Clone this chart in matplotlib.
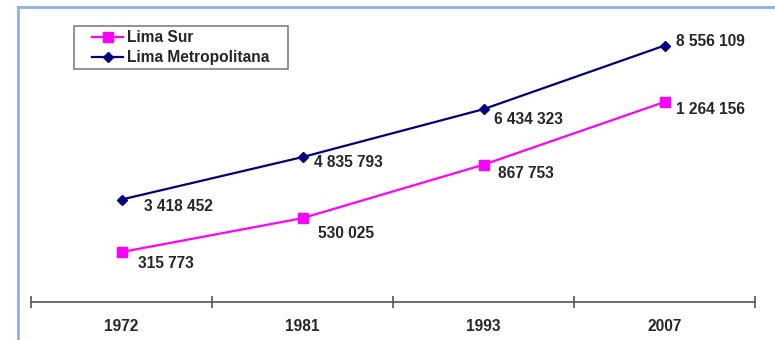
import matplotlib.pyplot as plt
from matplotlib.lines import Line2D
from matplotlib.patches import Rectangle

plt.rcParams['font.family'] = ['Liberation Sans', 'DejaVu Sans']

# poblacion censal
anios = ['1972', '1981', '1993', '2007']
lima_metro = [3418452, 4835793, 6434323, 8556109]
lima_sur = [315773, 530025, 867753, 1264156]
etiq_metro = ['3 418 452', '4 835 793', '6 434 323', '8 556 109']
etiq_sur = ['315 773', '530 025', '867 753', '1 264 156']

# desplazamiento de las etiquetas (pixeles)
desp_metro = [(23, -7), (12, -5), (11, -10), (11, 4)]
desp_sur = [(17, -11), (15, -15), (14, -9), (12, -7)]

W, H = 775, 340
FS = 11.2
fig = plt.figure(figsize=(W / 100, H / 100), dpi=100)
ax = fig.add_axes([31 / W, (H - 302) / H, 724 / W, 282 / H])
ax2 = ax.twinx()

x = [i + 0.5 for i in range(len(anios))]
color_metro = '#000080'
color_sur = '#ff00ff'
color_txt = '#262626'

l1, = ax.plot(x, lima_metro, color=color_metro, lw=1.6, marker='D', ms=5.5,
              label='Lima Metropolitana')
l2, = ax2.plot(x, lima_sur, color=color_sur, lw=1.6, marker='s', ms=6.5,
               label='Lima Sur')

ax.set_ylim(0, 9.41e6)
ax2.set_ylim(0, 1.7826e6)
ax.set_xlim(0, 4)

for xi, v, t, d in zip(x, lima_metro, etiq_metro, desp_metro):
    ax.annotate(t, (xi, v), xytext=d, textcoords='offset pixels', ha='left', va='center',
                fontsize=FS, fontweight='bold', color=color_txt)
for xi, v, t, d in zip(x, lima_sur, etiq_sur, desp_sur):
    ax2.annotate(t, (xi, v), xytext=d, textcoords='offset pixels', ha='left', va='center',
                 fontsize=FS, fontweight='bold', color=color_txt)

for a in (ax, ax2):
    for s in ('top', 'left', 'right'):
        a.spines[s].set_visible(False)
    a.set_yticks([])
ax2.spines['bottom'].set_visible(False)
ax.spines['bottom'].set_color('#555555')
ax.spines['bottom'].set_linewidth(1.2)

ax.set_xticks([0, 1, 2, 3, 4])
ax.set_xticklabels([])
ax.set_xticks(x, minor=True)
ax.set_xticklabels(anios, minor=True, fontsize=FS, fontweight='bold', color=color_txt)
ax.tick_params(axis='x', which='major', direction='inout', length=9, width=1.2, color='#555555')
ax.tick_params(axis='x', which='minor', length=0, pad=12.5)

# leyenda sin marco propio; el recuadro se dibuja aparte
leg = fig.legend([l2, l1], ['Lima Sur', 'Lima Metropolitana'], loc='upper left',
                 bbox_to_anchor=(92 / W, 1 - 30 / H), frameon=False,
                 prop={'size': FS, 'weight': 'bold'}, handlelength=2.0,
                 borderpad=0, labelspacing=0.33, handletextpad=0.25, borderaxespad=0)
for t in leg.get_texts():
    t.set_color(color_txt)
fig.add_artist(Rectangle((74 / W, 1 - 69 / H), 214 / W, 43 / H, transform=fig.transFigure,
                         fill=False, edgecolor='#808080', lw=1.2))

# marco exterior
fig.add_artist(Line2D([18 / W, 1], [1 - 7 / H, 1 - 7 / H], color='#8db1e2', lw=2))
fig.add_artist(Line2D([18 / W, 18 / W], [0, 1 - 7 / H], color='#8db1e2', lw=2))

fig.savefig('out.png', dpi=100)
